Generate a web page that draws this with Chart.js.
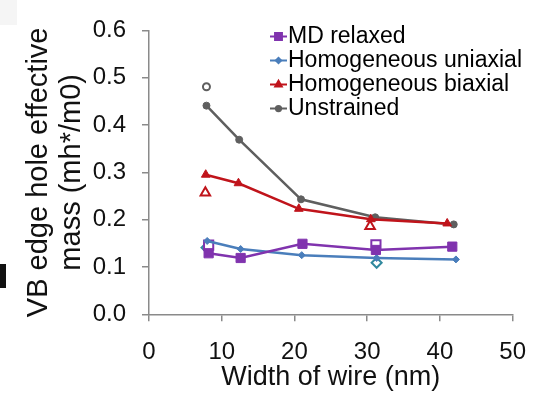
<!DOCTYPE html>
<html>
<head>
<meta charset="utf-8">
<script src="https://cdn.jsdelivr.net/npm/chart.js@4.4.1/dist/chart.umd.min.js"></script>
<style>
html, body { margin: 0; padding: 0; background: #fff; }
#wrap { position: relative; width: 543px; height: 396px; }
#c { display: block; }
.corner { position: absolute; left: 0; top: 0; width: 17px; height: 25px; background: #f5f5f5; }
.mark { position: absolute; left: 0; top: 264px; width: 6px; height: 24px; background: #111; }
</style>
</head>
<body>
<div id="wrap">
  <div class="corner"></div>
  <canvas id="c" width="543" height="396"></canvas>
  <div class="mark"></div>
</div>
<script>
// wire width (nm) and effective mass for each series
var mdX = [8.2, 12.6, 21.1, 31.2, 41.7];
var mdY = [0.129, 0.119, 0.149, 0.136, 0.143];
var uniX = [8.0, 12.6, 21.0, 31.3, 42.2];
var uniY = [0.155, 0.138, 0.125, 0.119, 0.116];
var biX = [7.8, 12.3, 20.6, 30.5, 41.0];
var biY = [0.295, 0.277, 0.223, 0.201, 0.192];
var unX = [7.9, 12.4, 20.9, 31.1, 41.9];
var unY = [0.441, 0.369, 0.243, 0.205, 0.190];

// open markers (no legend entry)
var unOpenX = [7.9];
var unOpenY = [0.481];
var biOpenX = [7.75, 30.4];
var biOpenY = [0.257, 0.186];
var mdOpenX = [8.2, 31.2];
var mdOpenY = [0.146, 0.147];
var uniOpenX = [7.9, 31.3];
var uniOpenY = [0.141, 0.109];

var legendNames = ['MD relaxed', 'Homogeneous uniaxial', 'Homogeneous biaxial', 'Unstrained'];
var xTicks = [0, 10, 20, 30, 40, 50];
var yTicks = [0, 0.1, 0.2, 0.3, 0.4, 0.5, 0.6];

var FONT = '"Liberation Sans", Arial, sans-serif';

function pts(xs, ys) {
    var out = [];
    for (var i = 0; i < xs.length; i++) {
        out.push({x: xs[i], y: ys[i]});
    }
    return out;
}

function lineSet(label, xs, ys, color, style, r) {
    return {
        label: label,
        data: pts(xs, ys),
        borderColor: color,
        backgroundColor: color,
        borderWidth: 2.5,
        pointStyle: style,
        pointRadius: r,
        pointBackgroundColor: color,
        pointBorderColor: color,
        pointBorderWidth: 1,
        showLine: true,
        tension: 0
    };
}

function openSet(xs, ys, color, style, r) {
    return {
        label: '',
        data: pts(xs, ys),
        borderColor: color,
        showLine: false,
        pointStyle: style,
        pointRadius: r,
        pointBackgroundColor: '#ffffff',
        pointBorderColor: color,
        pointBorderWidth: 2
    };
}

// Excel-style legend: short line with marker, drawn inside the plot
var lineLegend = {
    id: 'lineLegend',
    afterDraw: function(chart) {
        var ctx = chart.ctx;
        ctx.save();
        ctx.font = '23px ' + FONT;
        ctx.textBaseline = 'middle';
        for (var i = 0; i < legendNames.length; i++) {
            var ds = chart.data.datasets[i];
            var y = 36.5 + i * 24;
            ctx.strokeStyle = ds.borderColor;
            ctx.fillStyle = ds.borderColor;
            ctx.lineWidth = 2;
            ctx.beginPath();
            ctx.moveTo(270, y);
            ctx.lineTo(287, y);
            ctx.stroke();
            if (Chart.helpers && Chart.helpers.drawPoint) {
                Chart.helpers.drawPoint(ctx, {pointStyle: ds.pointStyle, radius: ds.pointRadius * 0.75, borderWidth: 1}, 278.5, y);
            }
            ctx.fillStyle = '#000';
            ctx.fillText(legendNames[i], 288, y);
        }
        ctx.restore();
    }
};

var ctx = document.getElementById('c').getContext('2d');
var chart = new Chart(ctx, {
    type: 'scatter',
    data: {
        datasets: [
            lineSet(legendNames[0], mdX, mdY, '#8033ae', 'rect', 6.5),
            lineSet(legendNames[1], uniX, uniY, '#4a7ebb', 'rectRot', 3.5),
            lineSet(legendNames[2], biX, biY, '#c0141b', 'triangle', 5),
            lineSet(legendNames[3], unX, unY, '#5f5f5f', 'circle', 3.5),
            openSet(unOpenX, unOpenY, '#5f5f5f', 'circle', 3.5),
            openSet(biOpenX, biOpenY, '#c0141b', 'triangle', 5.5),
            openSet(mdOpenX, mdOpenY, '#8033ae', 'rect', 6.5),
            openSet(uniOpenX, uniOpenY, '#31899e', 'rectRot', 5)
        ]
    },
    options: {
        responsive: false,
        animation: false,
        devicePixelRatio: 1,
        layout: { padding: { top: 15.7, right: 26.3, bottom: 0, left: 0 } },
        plugins: {
            legend: { display: false },
            tooltip: { enabled: false }
        },
        scales: {
            x: {
                type: 'linear',
                min: 0,
                max: 50,
                afterBuildTicks: function(s) { s.ticks = xTicks.map(function(v) { return {value: v}; }); },
                afterFit: function(s) { s.height = 81.7; },
                border: { color: '#8a8a8a', width: 1.5 },
                grid: { drawOnChartArea: false, drawTicks: true, tickLength: 7, color: '#8a8a8a', lineWidth: 1.5 },
                ticks: { font: { family: FONT, size: 24 }, color: '#111', padding: 17, maxRotation: 0 },
                title: {
                    display: true,
                    text: 'Width of wire (nm)',
                    font: { family: FONT, size: 27 },
                    color: '#111',
                    padding: { top: 0, bottom: 2 }
                }
            },
            y: {
                type: 'linear',
                min: 0,
                max: 0.6,
                afterBuildTicks: function(s) { s.ticks = yTicks.map(function(v) { return {value: v}; }); },
                afterFit: function(s) { s.width = 149; },
                border: { color: '#8a8a8a', width: 1.5 },
                grid: { drawOnChartArea: false, drawTicks: true, tickLength: 7, color: '#8a8a8a', lineWidth: 1.5 },
                ticks: {
                    font: { family: FONT, size: 24 },
                    color: '#111',
                    padding: 16,
                    callback: function(v) { return v.toFixed(1); }
                },
                title: {
                    display: true,
                    text: ['VB edge hole effective', 'mass (mh*/m0)'],
                    font: { family: FONT, size: 29, lineHeight: 1.15 },
                    color: '#111',
                    padding: { top: 22, bottom: 0 }
                }
            }
        }
    },
    plugins: [lineLegend]
});
</script>
</body>
</html>
